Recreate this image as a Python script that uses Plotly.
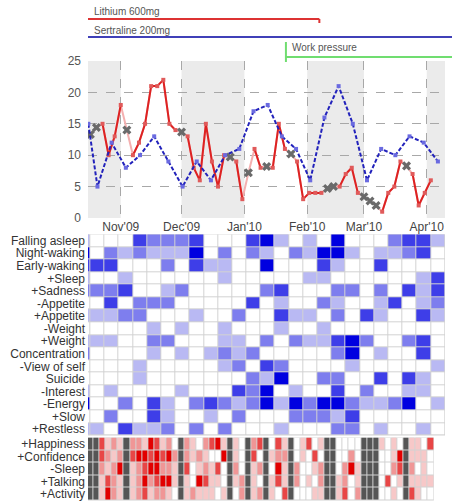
import plotly.graph_objects as go
import pandas as pd

# ---------------- data ----------------
sample_dates = [
    "2009-10-17", "2009-10-20", "2009-10-23", "2009-10-26", "2009-10-29",
    "2009-11-01", "2009-11-04", "2009-11-07", "2009-11-10", "2009-11-13",
    "2009-11-16", "2009-11-19", "2009-11-22", "2009-11-25", "2009-11-28",
    "2009-12-01", "2009-12-04", "2009-12-07", "2009-12-10", "2009-12-13",
    "2009-12-16", "2009-12-19", "2009-12-22", "2009-12-25", "2009-12-28",
    "2009-12-31", "2010-01-03", "2010-01-06", "2010-01-09", "2010-01-12",
    "2010-01-15", "2010-01-18", "2010-01-21", "2010-01-24", "2010-01-27",
    "2010-01-30", "2010-02-02", "2010-02-05", "2010-02-08", "2010-02-11",
    "2010-02-14", "2010-02-17", "2010-02-20", "2010-02-23", "2010-02-26",
    "2010-03-01", "2010-03-04", "2010-03-07", "2010-03-10", "2010-03-13",
    "2010-03-16", "2010-03-19", "2010-03-22", "2010-03-25", "2010-03-28",
    "2010-03-31", "2010-04-03",
]
mood_score = [None, None, 15, 10, 13, 18, None, 10, 12, 15,
              21, 21, 22, 15, 14, None, 13, 8, 6, 15,
              9, 5, 10, None, 9, 3, None, 11, 8, None,
              8, 15, 11, None, 9, 3, 4, 4, 4, None,
              None, 5, 7, 8, 4, None, None, None, 1, 4,
              5, 9, None, 7, 2, 4, 6]
imputed_score = [13.3, 14.4, None, None, None, None, 14, None, None, None,
                 None, None, None, None, None, 13.7, None, None, None, None,
                 None, None, None, 9.7, None, None, 7.2, None, None, 8.2,
                 None, None, None, 10.2, None, None, None, None, None, 4.7,
                 5.0, None, None, None, None, 3.4, 2.7, 2.0, None, None,
                 None, None, 8.3, None, None, None, None]

week_edges = [
    "2009-10-15", "2009-10-17", "2009-10-24", "2009-10-31", "2009-11-07",
    "2009-11-14", "2009-11-21", "2009-11-28", "2009-12-05", "2009-12-12",
    "2009-12-19", "2009-12-26", "2010-01-02", "2010-01-09", "2010-01-16",
    "2010-01-23", "2010-01-30", "2010-02-06", "2010-02-13", "2010-02-20",
    "2010-02-27", "2010-03-06", "2010-03-13", "2010-03-20", "2010-03-27",
    "2010-04-03", "2010-04-10",
]
weekly_score = [15, 5, 12, 8, 10, 13, 9, 5, 9, 6, 10, 11, 17, 18, 13, 11,
                6, 16, 21, 15, 6, 11, 10, 13, 12, 9]

depr_labels = ["Falling asleep", "Night-waking", "Early-waking", "+Sleep",
               "+Sadness", "-Appetite", "+Appetite", "-Weight", "+Weight",
               "Concentration", "-View of self", "Suicide", "-Interest",
               "-Energy", "+Slow", "+Restless"]
falling_asleep = [1,0,0,0,3,2,2,2,3,0,0,0,3,4,1,0,1,0,4,0,0,0,2,3,3,1]
night_waking   = [4,0,2,1,2,1,1,1,4,0,2,0,2,1,0,2,1,4,4,1,0,1,1,2,3,0]
early_waking   = [3,3,3,0,0,0,2,0,3,1,1,0,0,4,0,0,0,3,1,0,0,3,0,0,0,0]
more_sleep     = [1,0,0,1,0,0,0,0,0,0,1,0,0,0,0,0,1,1,0,0,0,0,0,0,1,3]
sadness        = [2,2,2,3,0,0,1,2,0,0,0,0,0,2,3,0,0,0,2,2,0,2,0,3,1,3]
less_appetite  = [0,0,3,0,2,2,2,0,0,0,0,0,3,0,1,0,0,2,1,0,0,1,3,0,1,2]
more_appetite  = [1,1,1,2,2,0,0,0,1,0,0,2,0,0,3,1,1,0,2,0,3,1,0,0,3,1]
less_weight    = [0,0,0,0,0,1,0,1,0,0,1,0,0,0,1,0,0,1,0,0,0,0,0,0,0,0]
more_weight    = [1,1,1,0,0,2,2,0,0,0,1,1,0,2,0,2,1,1,3,4,2,0,0,2,3,0]
concentration  = [2,0,0,0,0,1,0,1,0,1,2,1,2,0,0,0,0,0,2,4,0,1,0,0,3,0]
view_of_self   = [0,0,0,0,1,0,0,0,0,0,1,2,0,3,2,0,0,0,0,1,0,0,0,0,0,1]
suicide        = [0,0,0,0,1,0,0,0,0,0,0,0,2,1,4,0,0,2,2,0,0,3,0,3,1,0]
less_interest  = [1,0,1,0,0,0,0,1,0,0,0,3,2,4,0,1,0,0,3,0,2,0,0,1,1,0]
less_energy    = [4,0,0,2,0,3,1,0,2,3,2,1,2,4,1,4,2,4,4,2,1,1,2,4,0,1]
slowed         = [0,0,2,0,0,3,1,0,0,1,0,2,0,0,0,2,2,2,1,3,0,0,0,0,0,0]
restless       = [1,1,0,3,1,1,2,0,2,0,2,0,0,0,1,0,0,0,2,2,0,1,0,0,1,0]

mania_labels = ["+Happiness", "+Confidence", "-Sleep", "+Talking", "+Activity"]
happiness  = [None,None,3,1,2,1,None,2,2,1, 4,3,1,2,0,None,2,1,0,2,
              3,4,1,None,1,0,None,2,3,None, 0,3,1,None,0,1,3,0,1,None,
              None,0,0,0,0,None,None,None,1,0, 1,0,None,1,1,0,3]
confidence = [None,None,3,2,1,2,None,3,4,4, 3,4,3,4,2,None,2,1,2,1,
              0,0,4,None,1,0,None,3,0,None, 1,2,2,None,0,1,0,3,0,None,
              None,0,0,2,0,None,None,None,0,0, 1,4,None,1,1,1,0]
less_sleep = [None,None,2,1,2,4,None,1,2,3, 4,4,2,2,1,None,3,0,1,2,
              1,3,0,None,2,0,None,1,2,None, 0,4,1,None,2,0,0,1,2,None,
              None,0,2,4,1,None,None,None,0,0, 2,3,None,2,0,1,0]
talking    = [None,None,1,3,2,1,None,1,2,4, 2,3,4,4,1,None,1,0,4,3,
              1,1,0,None,1,2,None,1,0,None, 1,3,1,None,2,0,1,0,2,None,
              None,1,2,0,1,None,None,None,0,3, 0,1,None,1,1,1,1]
activity   = [None,None,1,4,2,1,None,1,2,3, 1,2,2,1,0,None,1,2,1,1,
              1,0,1,None,0,2,None,1,2,None, 1,0,3,None,0,0,0,1,1,None,
              None,1,3,0,2,None,None,None,0,0, 1,0,None,3,1,0,0]

month_starts = ["2009-11-01", "2009-12-01", "2010-01-01", "2010-02-01",
                "2010-03-01", "2010-04-01"]
month_labels = ["Nov'09", "Dec'09", "Jan'10", "Feb'10", "Mar'10", "Apr'10"]
shaded_from = ["2009-10-15 20:00", "2009-12-01", "2010-02-01", "2010-04-01"]
shaded_to = ["2009-11-01", "2010-01-01", "2010-03-01", "2010-04-10"]

event_names = ["Lithium 600mg", "Sertraline 200mg", "Work pressure"]
event_starts = ["2009-10-15 20:00", "2009-10-15 20:00", "2010-01-21 12:00"]
event_ends = ["2010-02-07", "2010-04-14", "2010-04-14"]
event_colors = ["#dd3333", "#4040b8", "#70dd70"]

# ---------------- layout helpers ----------------
W, H = 452, 501
X_RANGE = ["2009-10-15 20:00", "2010-04-10"]
r0, r1 = pd.Timestamp(X_RANGE[0]), pd.Timestamp(X_RANGE[1])


def xp(d):
    return (pd.Timestamp(d) - r0) / (r1 - r0)


def yp(py):
    return 1 - py / H


FONT = "Arial, Liberation Sans, sans-serif"

fig = go.Figure()

# line chart
combined = [m if m is not None else i for m, i in zip(mood_score, imputed_score)]
fig.add_trace(go.Scatter(x=sample_dates, y=combined, mode="lines",
                         line=dict(color="#f4b0b0", width=2),
                         xaxis="x", yaxis="y", hoverinfo="skip"))
fig.add_trace(go.Scatter(x=sample_dates, y=mood_score, mode="lines+markers",
                         line=dict(color="#dd2222", width=2),
                         marker=dict(symbol="square", size=4, color="#e05a5a"),
                         connectgaps=False, xaxis="x", yaxis="y"))
fig.add_trace(go.Scatter(x=sample_dates, y=imputed_score, mode="markers",
                         marker=dict(symbol="x", size=8, color="#6a6a6a",
                                     line=dict(width=0)),
                         xaxis="x", yaxis="y"))

e = pd.to_datetime(week_edges)
week_centers = [e[k] + (e[k + 1] - e[k]) / 2 for k in range(len(e) - 1)]
fig.add_trace(go.Scatter(x=week_centers, y=weekly_score, mode="lines+markers",
                         line=dict(color="#2222bb", width=2, dash="4px,2px"),
                         marker=dict(symbol="square", size=4, color="#6a6ae0"),
                         xaxis="x", yaxis="y"))

# depression heatmap
depr_rows = [falling_asleep, night_waking, early_waking, more_sleep, sadness,
             less_appetite, more_appetite, less_weight, more_weight,
             concentration, view_of_self, suicide, less_interest, less_energy,
             slowed, restless]
blues = ["#ffffff", "#b9b9f3", "#7e7eee", "#3e3ee8", "#0000e0"]
bscale = []
for k, c in enumerate(blues):
    bscale += [[k / 5, c], [(k + 1) / 5, c]]
fig.add_trace(go.Heatmap(z=depr_rows, x=week_edges, y=depr_labels,
                         colorscale=bscale, zmin=-0.5, zmax=4.5,
                         showscale=False, xgap=1, ygap=1,
                         xaxis="x2", yaxis="y2"))

# mania heatmap
mania_rows = [happiness, confidence, less_sleep, talking, activity]
mania_z = [[-1 if v is None else v for v in row] for row in mania_rows]
reds = ["#555555", "#ffffff", "#f7c8c8", "#f09696", "#e84646", "#e20000"]
rscale = []
for k, c in enumerate(reds):
    rscale += [[k / 6, c], [(k + 1) / 6, c]]
fig.add_trace(go.Heatmap(z=mania_z, x=sample_dates, y=mania_labels,
                         colorscale=rscale, zmin=-1.5, zmax=4.5,
                         showscale=False, xgap=1, ygap=1,
                         xaxis="x3", yaxis="y3"))

sd = pd.to_datetime(sample_dates)
mania_end = sd[-1] + (sd[-1] - sd[-2]) / 2

shapes = []
for a, b in zip(shaded_from, shaded_to):
    shapes.append(dict(type="rect", xref="x", yref="y domain", x0=a, x1=b,
                       y0=0, y1=1, fillcolor="#ebebeb", line=dict(width=0),
                       layer="below"))
shapes.append(dict(type="rect", xref="x2 domain", yref="y2 domain",
                   x0=0, x1=1, y0=0, y1=1, fillcolor="#d2d2d2",
                   line=dict(width=0), layer="below"))
shapes.append(dict(type="rect", xref="x3", yref="y3 domain",
                   x0=X_RANGE[0], x1=mania_end, y0=0, y1=1,
                   fillcolor="#d2d2d2", line=dict(width=0), layer="below"))

# event timeline
event_rows = [19, 37, 57]
text_rows = [12, 30, 48]
annotations = []
for name, s, en, col, ly, ty in zip(event_names, event_starts, event_ends,
                                    event_colors, event_rows, text_rows):
    shapes.append(dict(type="line", xref="paper", yref="paper",
                       x0=xp(s), x1=xp(en), y0=yp(ly), y1=yp(ly),
                       line=dict(color=col, width=2)))
    annotations.append(dict(text=name, xref="paper", yref="paper",
                            x=xp(s) + 0.012, y=yp(ty), xanchor="left",
                            yanchor="middle", showarrow=False,
                            font=dict(size=10, color="#555", family=FONT)))
shapes.append(dict(type="line", xref="paper", yref="paper",
                   x0=xp(event_ends[0]), x1=xp(event_ends[0]),
                   y0=yp(19), y1=yp(23), line=dict(color=event_colors[0], width=2)))
shapes.append(dict(type="line", xref="paper", yref="paper",
                   x0=xp(event_starts[2]), x1=xp(event_starts[2]),
                   y0=yp(42), y1=yp(62), line=dict(color=event_colors[2], width=2)))

grid = dict(showgrid=True, gridcolor="#a8a8a8", griddash="dash", gridwidth=1)

fig.update_layout(
    width=W, height=H,
    margin=dict(l=88, r=7, t=0, b=0, autoexpand=False),
    paper_bgcolor="white", plot_bgcolor="white",
    showlegend=False,
    font=dict(family=FONT, size=12, color="#444"),
    shapes=shapes, annotations=annotations,
    xaxis=dict(type="date", range=X_RANGE, domain=[0, 1], anchor="y",
               tickmode="array", tickvals=month_starts, ticktext=month_labels,
               tickfont=dict(size=12, color="#444"), zeroline=False,
               showline=False, ticks="", automargin=False, **grid),
    yaxis=dict(domain=[yp(218), yp(61)], range=[0, 25], anchor="x",
               tickvals=[0, 5, 10, 15, 20, 25],
               tickfont=dict(size=12, color="#555"), zeroline=False,
               showline=False, ticks="", ticklabelstandoff=6,
               automargin=False, **grid),
    xaxis2=dict(type="date", range=X_RANGE, domain=[0, 1], anchor="y2",
                showticklabels=False, showgrid=False, zeroline=False,
                showline=False, ticks="", automargin=False),
    yaxis2=dict(domain=[yp(435.5), yp(234.3)], anchor="x2",
                autorange="reversed", showgrid=False, zeroline=False,
                tickmode="array", tickvals=depr_labels,
                ticks="", ticklabelstandoff=2,
                tickfont=dict(size=12, color="#333"), automargin=False),
    xaxis3=dict(type="date", range=X_RANGE, domain=[0, 1], anchor="y3",
                showticklabels=False, showgrid=False, zeroline=False,
                showline=False, ticks="", automargin=False),
    yaxis3=dict(domain=[yp(500.5), yp(437.5)], anchor="x3",
                autorange="reversed", showgrid=False, zeroline=False,
                tickmode="array", tickvals=mania_labels,
                ticks="", ticklabelstandoff=2,
                tickfont=dict(size=12, color="#333"), automargin=False),
)

fig.write_html("out.html")
